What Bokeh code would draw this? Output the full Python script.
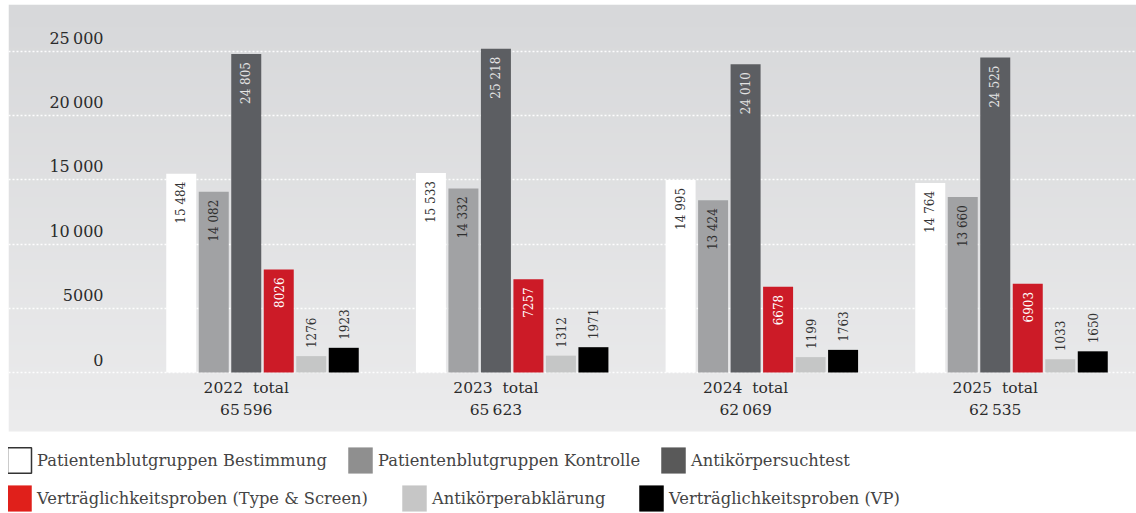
import numpy as np
from bokeh.plotting import figure
from bokeh.models import Range1d, ColumnDataSource, Grid, FixedTicker, Legend, LegendItem
from bokeh.core.properties import value
from bokeh.embed import file_html
from bokeh.resources import INLINE

# ---------------- data ----------------
years = ["2022", "2023", "2024", "2025"]
series_names = [
    "Patientenblutgruppen Bestimmung",
    "Patientenblutgruppen Kontrolle",
    "Antikörpersuchtest",
    "Verträglichkeitsproben (Type & Screen)",
    "Antikörperabklärung",
    "Verträglichkeitsproben (VP)",
]
bestimmung = [15484, 15533, 14995, 14764]
kontrolle = [14082, 14332, 13424, 13660]
suchtest = [24805, 25218, 24010, 24525]
type_screen = [8026, 7257, 6678, 6903]
abklaerung = [1276, 1312, 1199, 1033]
vp = [1923, 1971, 1763, 1650]
y_ticks = [0, 5000, 10000, 15000, 20000, 25000]

series = [bestimmung, kontrolle, suchtest, type_screen, abklaerung, vp]

# ---------------- styles ----------------
FONT = "DejaVu Serif"
bar_colors = ["#ffffff", "#a1a2a4", "#5c5e62", "#cc1b27", "#c5c6c6", "#000000"]
label_colors = ["#333333", "#2e2e2e", "#e4e4e4", "#ffffff", "#333333", "#333333"]
legend_colors = ["#ffffff", "#8f8f8f", "#595959", "#e0201b", "#c6c6c6", "#000000"]
# legend item positions (screen px offsets within the frame: x from left, y from bottom)
legend_locs = [(-4, 36), (337, 36), (650, 36), (-4, -2), (391, -2), (628, -2)]

W, H = 1136, 512
LEFT, TOP = 8, 4
PX_GROUP = 249.67          # px per group
STEP = 32.5 / PX_GROUP     # bar step
BW = 30 / PX_GROUP         # bar width
X_START = -(262 - LEFT) / PX_GROUP
X_END = X_START + (W - LEFT) / PX_GROUP
K = 321 / 25000            # px per unit
Y_TOP = (372 - TOP) / K
Y_BOT = -(H - 372) / K
GRAY_BOTTOM = -(431 - 372) / K
TICK_X = X_START + (103 - LEFT) / PX_GROUP


def fmt(v, sep):
    if v >= 10000:
        return f"{v:,}".replace(",", sep)
    return str(v)


p = figure(width=W, height=H, x_range=Range1d(X_START, X_END), y_range=Range1d(Y_BOT, Y_TOP),
           x_axis_type=None, y_axis_type=None, toolbar_location=None, output_backend="svg",
           min_border_left=LEFT, min_border_top=TOP, min_border_right=0, min_border_bottom=0,
           outline_line_color=None, background_fill_color="white", border_fill_color="white")

# gradient panel background
n = 256
t = np.linspace(0, 1, n)[:, None]
top_rgb = np.array([0xd7, 0xd8, 0xda])
bot_rgb = np.array([0xec, 0xec, 0xed])
rgb = (bot_rgb + (top_rgb - bot_rgb) * t).astype(np.uint8)
img = np.empty((n, 1), dtype=np.uint32)
view = img.view(dtype=np.uint8).reshape((n, 1, 4))
view[:, 0, 0] = rgb[:, 0]
view[:, 0, 1] = rgb[:, 1]
view[:, 0, 2] = rgb[:, 2]
view[:, 0, 3] = 255
p.image_rgba(image=[img], x=X_START, y=GRAY_BOTTOM, dw=X_END - X_START, dh=Y_TOP - GRAY_BOTTOM,
             level="image")

grid = Grid(dimension=1, ticker=FixedTicker(ticks=y_ticks), grid_line_color="white",
            grid_line_dash="2 2", grid_line_width=1.5, grid_line_alpha=0.95)
p.add_layout(grid)

# y tick labels
tick_labels = [fmt(v, "\u2009") for v in y_ticks]
p.text(x=[TICK_X] * len(y_ticks), y=y_ticks, text=tick_labels, text_align="right",
       text_baseline="middle", y_offset=-13, text_color="#2b2b2b",
       text_font=value(FONT), text_font_size="16px")

# bars
for i, (vals, col) in enumerate(zip(series, bar_colors)):
    xs = [g + (i - 2.5) * STEP for g in range(len(years))]
    src = ColumnDataSource(dict(x=xs, top=vals, label=[fmt(v, " ") for v in vals]))
    p.vbar(x="x", top="top", bottom=0, width=BW, fill_color=col, line_color=None, source=src)
    inside = i < 4
    p.text(x="x", y="top", text="label", source=src, angle=np.pi / 2,
           text_align="right" if inside else "left", text_baseline="middle",
           y_offset=8 if inside else -8, text_color=label_colors[i],
           text_font=value(FONT), text_font_size="12px")

# category labels with totals
totals = [sum(s[g] for s in series) for g in range(len(years))]
cx = [g - STEP / 2 for g in range(len(years))]
p.text(x=cx, y=[0] * len(years), text=[f"{y}\u00a0\u00a0total" for y in years],
       text_align="center", text_baseline="middle", y_offset=15, text_color="#2b2b2b",
       text_font=value(FONT), text_font_size="15.5px")
p.text(x=cx, y=[0] * len(years), text=[fmt(v, "\u2009") for v in totals],
       text_align="center", text_baseline="middle", y_offset=37, text_color="#2b2b2b",
       text_font=value(FONT), text_font_size="15.5px")

# legend-only renderers (no visible mark)
dummies = []
for i in range(6):
    r = p.vbar(x=np.array([np.nan]), top=np.array([np.nan]), width=0.1,
               fill_color=legend_colors[i],
               line_color="#333333" if i == 0 else legend_colors[i],
               line_width=1.5 if i == 0 else 0.5)
    dummies.append(r)

common = dict(orientation="horizontal", glyph_width=30, glyph_height=32, label_standoff=3,
              padding=0, margin=0, border_line_color=None, background_fill_alpha=0,
              label_text_font=FONT, label_text_font_size="16.3px", label_text_color="#444444",
              label_text_baseline="middle")
for i in range(6):
    leg = Legend(items=[LegendItem(label=series_names[i], renderers=[dummies[i]])],
                 location=legend_locs[i], **common)
    p.add_layout(leg)

open("out.html", "w").write(file_html(p, INLINE))
